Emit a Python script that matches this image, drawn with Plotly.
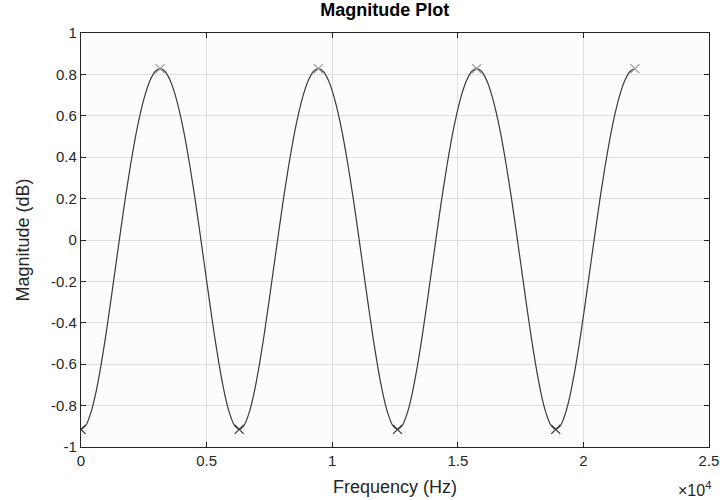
import plotly.graph_objects as go

freq_hz = [0, 196.875, 393.75, 590.625, 787.5, 984.375, 1181.25, 1378.125, 1575, 1771.875,
           1968.75, 2165.625, 2362.5, 2559.375, 2756.25, 2953.125, 3150, 3346.875, 3543.75, 3740.625,
           3937.5, 4134.375, 4331.25, 4528.125, 4725, 4921.875, 5118.75, 5315.625, 5512.5, 5709.375,
           5906.25, 6103.125, 6300, 6496.875, 6693.75, 6890.625, 7087.5, 7284.375, 7481.25, 7678.125,
           7875, 8071.875, 8268.75, 8465.625, 8662.5, 8859.375, 9056.25, 9253.125, 9450, 9646.875,
           9843.75, 10040.625, 10237.5, 10434.375, 10631.25, 10828.125, 11025, 11221.875, 11418.75, 11615.625,
           11812.5, 12009.375, 12206.25, 12403.125, 12600, 12796.875, 12993.75, 13190.625, 13387.5, 13584.375,
           13781.25, 13978.125, 14175, 14371.875, 14568.75, 14765.625, 14962.5, 15159.375, 15356.25, 15553.125,
           15750, 15946.875, 16143.75, 16340.625, 16537.5, 16734.375, 16931.25, 17128.125, 17325, 17521.875,
           17718.75, 17915.625, 18112.5, 18309.375, 18506.25, 18703.125, 18900, 19096.875, 19293.75, 19490.625,
           19687.5, 19884.375, 20081.25, 20278.125, 20475, 20671.875, 20868.75, 21065.625, 21262.5, 21459.375,
           21656.25, 21853.125, 22050]
magnitude_db = [-0.915, -0.895, -0.834, -0.738, -0.612, -0.463, -0.299, -0.128, 0.043, 0.208,
                0.360, 0.497, 0.612, 0.705, 0.773, 0.814, 0.828, 0.814, 0.773, 0.705,
                0.612, 0.497, 0.360, 0.208, 0.043, -0.128, -0.299, -0.463, -0.612, -0.738,
                -0.834, -0.895, -0.915, -0.895, -0.834, -0.738, -0.612, -0.463, -0.299, -0.128,
                0.043, 0.208, 0.360, 0.497, 0.612, 0.705, 0.773, 0.814, 0.828, 0.814,
                0.773, 0.705, 0.612, 0.497, 0.360, 0.208, 0.043, -0.128, -0.299, -0.463,
                -0.612, -0.738, -0.834, -0.895, -0.915, -0.895, -0.834, -0.738, -0.612, -0.463,
                -0.299, -0.128, 0.043, 0.208, 0.360, 0.497, 0.612, 0.705, 0.773, 0.814,
                0.828, 0.814, 0.773, 0.705, 0.612, 0.497, 0.360, 0.208, 0.043, -0.128,
                -0.299, -0.463, -0.612, -0.738, -0.834, -0.895, -0.915, -0.895, -0.834, -0.738,
                -0.612, -0.463, -0.299, -0.128, 0.043, 0.208, 0.360, 0.497, 0.612, 0.705,
                0.773, 0.814, 0.828]

peak_freq = [3150, 9450, 15750, 22050]
peak_db = [0.828, 0.828, 0.828, 0.828]
trough_freq = [0, 6300, 12600, 18900]
trough_db = [-0.915, -0.915, -0.915, -0.915]

x_tickvals = [0, 5000, 10000, 15000, 20000, 25000]
x_ticktext = ["0", "0.5", "1", "1.5", "2", "2.5"]
y_tickvals = [-1, -0.8, -0.6, -0.4, -0.2, 0, 0.2, 0.4, 0.6, 0.8, 1]
y_ticktext = ["-1", "-0.8", "-0.6", "-0.4", "-0.2", "0", "0.2", "0.4", "0.6", "0.8", "1"]

font_family = "Liberation Sans, Arial, sans-serif"

fig = go.Figure()
fig.add_trace(go.Scatter(x=freq_hz, y=magnitude_db, mode="lines",
                         line=dict(color="#3a3a3a", width=1.2, shape="spline", smoothing=0.6),
                         showlegend=False, hoverinfo="skip"))
fig.add_trace(go.Scatter(x=peak_freq, y=peak_db, mode="markers",
                         marker=dict(symbol="x-thin", size=9, line=dict(color="#9a9a9a", width=1.2)),
                         showlegend=False))
fig.add_trace(go.Scatter(x=trough_freq, y=trough_db, mode="markers",
                         marker=dict(symbol="x-thin", size=9, line=dict(color="#333333", width=1.2)),
                         showlegend=False))

axis_common = dict(
    showline=True, linecolor="#262626", linewidth=1.2, mirror="ticks",
    ticks="inside", ticklen=5, tickcolor="#262626",
    showgrid=True, gridcolor="#dedede", gridwidth=1,
    zeroline=False, tickfont=dict(family=font_family, size=15, color="#262626"),
)

fig.update_xaxes(range=[0, 25000], tickvals=x_tickvals, ticktext=x_ticktext,
                 automargin=False, **axis_common)
fig.update_yaxes(range=[-1, 1], tickvals=y_tickvals, ticktext=y_ticktext,
                 title=dict(text="Magnitude (dB)", font=dict(family=font_family, size=18, color="#262626"),
                            standoff=16),
                 **axis_common)

fig.add_annotation(x=0.5, y=-0.097, xref="paper", yref="paper", xanchor="center", yanchor="middle",
                   text="Frequency (Hz)", showarrow=False,
                   font=dict(family=font_family, size=18, color="#262626"))
fig.add_annotation(x=1.0, y=-0.072, xref="paper", yref="paper", xanchor="right", yanchor="top",
                   xshift=4,
                   text="\u00d710<sup>4</sup>", showarrow=False,
                   font=dict(family=font_family, size=16, color="#262626"))

fig.update_layout(
    width=720, height=500,
    margin=dict(l=81, r=11, t=33, b=53),
    paper_bgcolor="white", plot_bgcolor="#fcfcfc",
    title=dict(text="<b>Magnitude Plot</b>", x=0.5343, xanchor="center", y=0.993, yanchor="top",
               font=dict(family=font_family, size=18, color="black")),
)

fig.write_html("out.html")
